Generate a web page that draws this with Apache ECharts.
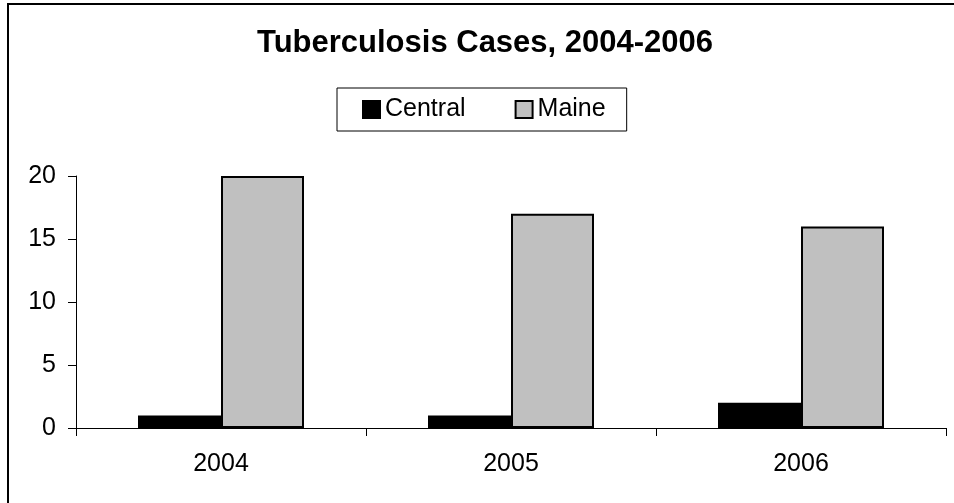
<!DOCTYPE html>
<html>
<head>
<meta charset="utf-8">
<script src="https://cdn.jsdelivr.net/npm/echarts@6/dist/echarts.min.js"></script>
<style>
  html, body { margin: 0; padding: 0; background: #fff; }
  #main { width: 954px; height: 503px; }
</style>
</head>
<body>
<div id="main"></div>
<script>
var years = ['2004', '2005', '2006'];
var centralCases = [1, 1, 2];
var maineCases = [20, 17, 16];
var yTicks = [0, 5, 10, 15, 20];

var chart = echarts.init(document.getElementById('main'));
var font = 'Liberation Sans, Arial, sans-serif';

var option = {
  backgroundColor: '#fff',
  animation: false,
  graphic: [{
    type: 'rect',
    shape: { x: 8, y: 4, width: 1000, height: 600 },
    style: { fill: 'none', stroke: '#000', lineWidth: 2 },
    silent: true
  }],
  title: {
    text: 'Tuberculosis Cases, 2004-2006',
    left: 257,
    top: 28,
    padding: 0,
    textStyle: { fontFamily: font, fontSize: 31, fontWeight: 'bold', color: '#000' }
  },
  legend: {
    left: 337,
    top: 88,
    padding: [9, 21, 9, 25],
    borderColor: '#000',
    borderWidth: 1,
    itemWidth: 17,
    itemHeight: 17,
    itemGap: 49,
    icon: 'rect',
    textStyle: { fontFamily: font, fontSize: 25, color: '#000' },
    data: ['Central', 'Maine']
  },
  grid: { left: 76, right: 8, top: 176, bottom: 75 },
  xAxis: {
    type: 'category',
    data: years,
    axisLine: { lineStyle: { color: '#000', width: 1 } },
    axisTick: { show: true, length: 8, alignWithLabel: false, lineStyle: { color: '#000' } },
    axisLabel: { fontFamily: font, fontSize: 25, color: '#000', margin: 24 }
  },
  yAxis: {
    type: 'value',
    min: yTicks[0],
    max: yTicks[yTicks.length - 1],
    interval: 5,
    splitLine: { show: false },
    axisLine: { show: true, lineStyle: { color: '#000', width: 1 } },
    axisTick: { show: true, length: 8, lineStyle: { color: '#000' } },
    axisLabel: { fontFamily: font, fontSize: 25, color: '#000', margin: 20 }
  },
  series: [{
    name: 'Central',
    type: 'bar',
    data: centralCases,
    barWidth: 83,
    barGap: '0%',
    itemStyle: { color: '#000', borderColor: '#000', borderWidth: 1.5 }
  }, {
    name: 'Maine',
    type: 'bar',
    data: maineCases,
    barWidth: 83,
    barGap: '0%',
    itemStyle: { color: '#c0c0c0', borderColor: '#000', borderWidth: 2 }
  }]
};
chart.setOption(option);
</script>
</body>
</html>
